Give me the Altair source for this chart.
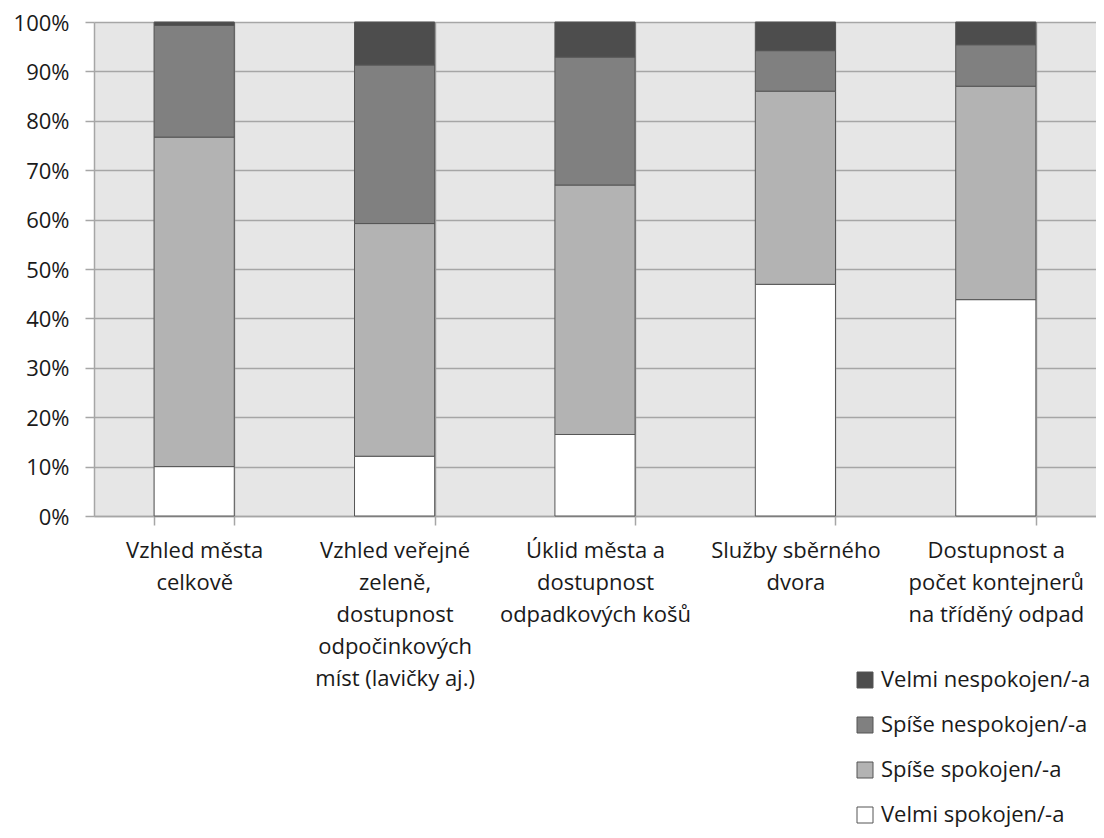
import altair as alt
import pandas as pd

categories = [
    "Vzhled města|celkově",
    "Vzhled veřejné|zeleně,|dostupnost|odpočinkových|míst (lavičky aj.)",
    "Úklid města a|dostupnost|odpadkových košů",
    "Služby sběrného|dvora",
    "Dostupnost a|počet kontejnerů|na tříděný odpad",
]
series = ["Velmi nespokojen/-a", "Spíše nespokojen/-a", "Spíše spokojen/-a", "Velmi spokojen/-a"]
velmi_spokojen = [10.0, 12.1, 16.5, 46.9, 43.8]
spise_spokojen = [66.7, 47.1, 50.5, 39.1, 43.2]
spise_nespokojen = [22.6, 32.1, 25.9, 8.2, 8.4]
velmi_nespokojen = [0.7, 8.7, 7.1, 5.8, 4.6]
colors = ["#4d4d4d", "#808080", "#b3b3b3", "#ffffff"]
y_ticks = list(range(0, 101, 10))

series_values = {
    "Velmi spokojen/-a": velmi_spokojen,
    "Spíše spokojen/-a": spise_spokojen,
    "Spíše nespokojen/-a": spise_nespokojen,
    "Velmi nespokojen/-a": velmi_nespokojen,
}
stack_order = ["Velmi spokojen/-a", "Spíše spokojen/-a", "Spíše nespokojen/-a", "Velmi nespokojen/-a"]

rows = []
for s_i, s in enumerate(stack_order):
    for c_i, c in enumerate(categories):
        rows.append({"cat": c, "series": s, "value": series_values[s][c_i], "ord": s_i})
df = pd.DataFrame(rows)

FONT = "Open Sans"
FS = 22
TEXT = "#1a1a1a"
GRID = "#a6a6a6"

chart = alt.Chart(df).mark_bar(stroke="#555555", strokeWidth=1).encode(
    x=alt.X(
        "cat:N",
        sort=categories,
        scale=alt.Scale(paddingInner=0.6, paddingOuter=0.3),
        axis=alt.Axis(
            title=None,
            labelExpr="split(datum.label, '|')",
            labelAngle=0,
            labelLineHeight=32,
            labelFontSize=FS,
            labelFont=FONT,
            labelColor=TEXT,
            labelPadding=15,
            labelLimit=300,
            grid=True,
            tickBand="extent",
            gridColor=GRID,
            gridWidth=1.5,
            tickColor=GRID,
            tickWidth=1.5,
            tickSize=9,
            domainColor=GRID,
            domainWidth=1.5,
        ),
    ),
    y=alt.Y(
        "value:Q",
        stack="zero",
        scale=alt.Scale(domain=[0, 100], nice=False),
        axis=alt.Axis(
            title=None,
            values=y_ticks,
            labelExpr="datum.value + '%'",
            labelFontSize=FS,
            labelFont=FONT,
            labelColor=TEXT,
            labelPadding=16,
            labelOffset=1,
            grid=True,
            gridColor=GRID,
            gridWidth=1.5,
            tickColor=GRID,
            tickWidth=1.5,
            tickSize=9,
            domainColor=GRID,
            domainWidth=1.5,
        ),
    ),
    color=alt.Color(
        "series:N",
        scale=alt.Scale(domain=series, range=colors),
        legend=alt.Legend(
            title=None,
            orient="none",
            legendX=760,
            legendY=647,
            symbolType="square",
            symbolSize=256,
            symbolStrokeColor="#555555",
            symbolStrokeWidth=1,
            labelFontSize=FS,
            labelFont=FONT,
            labelColor=TEXT,
            labelOffset=5,
            rowPadding=23,
            labelLimit=400,
        ),
    ),
    order=alt.Order("ord:Q"),
).properties(
    width=1002,
    height=494,
    autosize=alt.AutoSizeParams(type="none"),
    padding={"left": 86, "top": 14, "right": 0, "bottom": 314},
).configure_view(
    fill="#e6e6e6",
    stroke="transparent",
)

chart.save("out.html", embed_options={"renderer": "svg", "actions": False})
